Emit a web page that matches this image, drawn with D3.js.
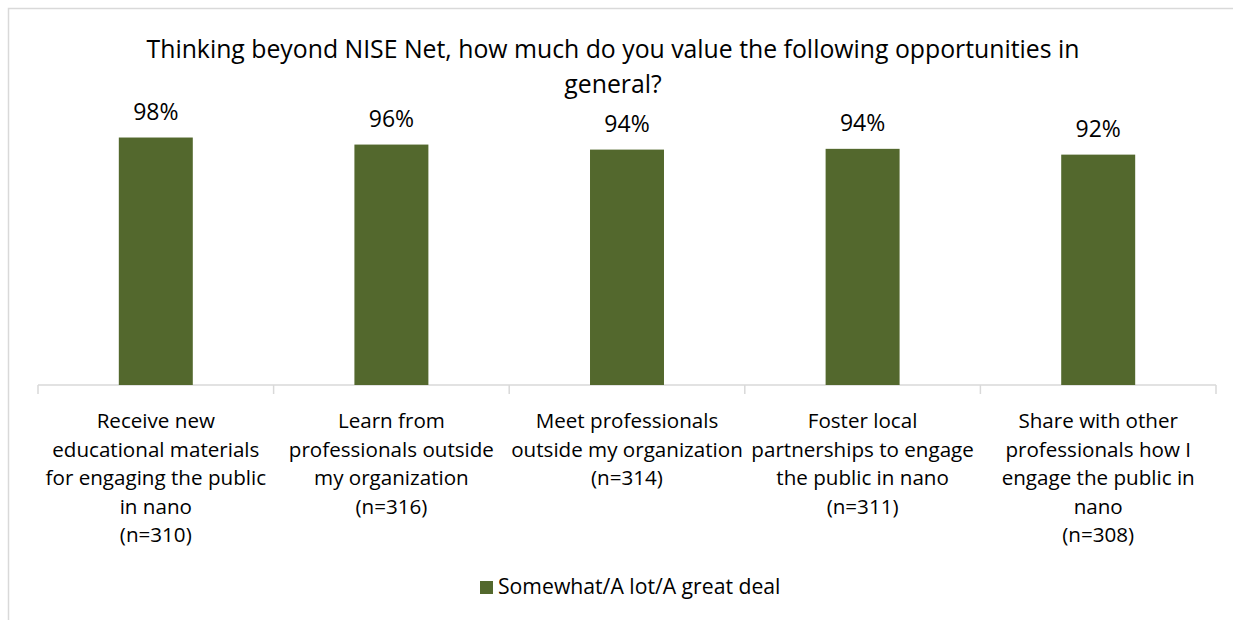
<!DOCTYPE html>
<html>
    <head>
        <title>NISE Net opportunities</title>
        <script src="https://d3js.org/d3.v7.min.js"></script>
        <style>
            body { margin: 0; background: #fff; overflow: hidden; }
            text { font-family: "Open Sans", "Noto Sans", sans-serif; fill: #000; }
        </style>
    </head>
    <body>
        <div class="chart"></div>
        <script>
            let width = 1233;
            let height = 620;

            // data
            let categories = [
                ["Receive new", "educational materials", "for engaging the public", "in nano", "(n=310)"],
                ["Learn from", "professionals outside", "my organization", "(n=316)"],
                ["Meet professionals", "outside my organization", "(n=314)"],
                ["Foster local", "partnerships to engage", "the public in nano", "(n=311)"],
                ["Share with other", "professionals how I", "engage the public in", "nano", "(n=308)"]
            ];
            let values = [98.4, 95.6, 93.6, 93.9, 91.6];
            let seriesName = "Somewhat/A lot/A great deal";
            let titleLines = ["Thinking beyond NISE Net, how much do you value the following opportunities in", "general?"];

            let plotLeft = 38;
            let plotRight = 1216;
            let plotBottom = 385;
            let color = "#53682d";

            let svg = d3.select(".chart")
                .append("svg")
                .attr("width", width)
                .attr("height", height);

            // chart frame (runs off the right/bottom of the picture)
            svg.append("rect")
                .attr("x", 8.5)
                .attr("y", 8.5)
                .attr("width", 1300)
                .attr("height", 700)
                .style("fill", "#fff")
                .style("stroke", "#d9d9d9")
                .style("stroke-width", 1.5);

            svg.selectAll(".title")
                .data(titleLines)
                .enter()
                .append("text")
                .attr("class", "title")
                .attr("x", 613)
                .attr("y", function (d, i) { return 58 + i * 35; })
                .style("text-anchor", "middle")
                .style("font-size", "24.8px")
                .text(function (d) { return d; });

            let x = d3.scaleBand()
                .domain(d3.range(categories.length))
                .range([plotLeft, plotRight])
                .padding(0);

            let y = d3.scaleLinear()
                .domain([0, 100])
                .range([plotBottom, plotBottom - 251.5]);

            let barWidth = x.bandwidth() * 0.314;

            // axis line, tick marks at category boundaries
            let axisG = svg.append("g")
                .attr("class", "x axis")
                .attr("transform", "translate(0," + plotBottom + ")");

            axisG.append("line")
                .attr("x1", plotLeft)
                .attr("x2", plotRight)
                .style("stroke", "#d9d9d9")
                .style("stroke-width", 1.5);

            axisG.selectAll(".sep")
                .data(d3.range(categories.length + 1))
                .enter()
                .append("line")
                .attr("class", "sep")
                .attr("x1", function (d) { return plotLeft + d * x.step(); })
                .attr("x2", function (d) { return plotLeft + d * x.step(); })
                .attr("y1", 0)
                .attr("y2", 9)
                .style("stroke", "#d9d9d9")
                .style("stroke-width", 1.5);

            // category labels
            let labelG = svg.selectAll(".catlabel")
                .data(categories)
                .enter()
                .append("text")
                .attr("class", "catlabel")
                .style("text-anchor", "middle")
                .style("font-size", "20.6px");

            labelG.selectAll("tspan")
                .data(function (d, i) { return d.map(function (line) { return { line: line, i: i }; }); })
                .enter()
                .append("tspan")
                .attr("x", function (d) { return x(d.i) + x.bandwidth() / 2; })
                .attr("y", function (d, j) { return 428 + j * 28.5; })
                .text(function (d) { return d.line; });

            svg.selectAll(".bar")
                .data(values)
                .enter()
                .append("rect")
                .attr("class", "bar")
                .attr("x", function (d, i) { return x(i) + x.bandwidth() / 2 - barWidth / 2; })
                .attr("y", function (d) { return y(d); })
                .attr("width", barWidth)
                .attr("height", function (d) { return plotBottom - y(d); })
                .style("fill", color);

            svg.selectAll(".value")
                .data(values)
                .enter()
                .append("text")
                .attr("class", "value")
                .attr("x", function (d, i) { return x(i) + x.bandwidth() / 2; })
                .attr("y", function (d) { return y(d) - 18; })
                .style("text-anchor", "middle")
                .style("font-size", "23px")
                .text(function (d) { return Math.round(d) + "%"; });

            // legend
            let legend = svg.append("g")
                .attr("class", "legend")
                .attr("transform", "translate(480,581)");

            legend.append("rect")
                .attr("width", 13)
                .attr("height", 13)
                .style("fill", color);

            legend.append("text")
                .attr("x", 18)
                .attr("y", 13)
                .style("font-size", "21.2px")
                .text(seriesName);
        </script>
    </body>
</html>
